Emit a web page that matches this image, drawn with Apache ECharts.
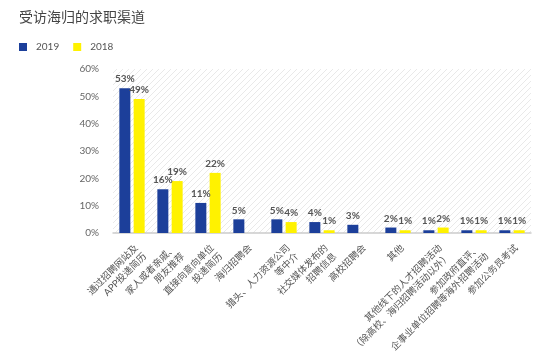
<!DOCTYPE html>
<html><head><meta charset="utf-8">
<script src="https://cdn.jsdelivr.net/npm/echarts@6/dist/echarts.min.js"></script>
<style>html,body{margin:0;padding:0;background:#fff;}#c{width:549px;height:356px;}</style>
</head><body><div id="c"></div>
<script>
const categories = [
  '通过招聘网站及\nAPP投递简历',
  '家人或者亲戚、\n朋友推荐',
  '直接向意向单位\n投递简历',
  '海归招聘会',
  '猎头、人力资源公司\n等中介',
  '社交媒体发布的\n招聘信息',
  '高校招聘会',
  '其他',
  '其他线下的人才招聘活动\n（除高校、海归招聘活动以外）',
  '参加政府直评、\n企事业单位招聘等海外招聘活动',
  '参加公务员考试'
];
const values2019 = [53, 16, 11, 5, 5, 4, 3, 2, 1, 1, 1];
const values2018 = [49, 19, 22, null, 4, 1, null, 1, 2, 1, 1];
const yTicks = [0, 10, 20, 30, 40, 50, 60];

const pc = document.createElement('canvas');
pc.width = 6; pc.height = 6;
const g = pc.getContext('2d');
g.strokeStyle = 'rgba(150,150,150,0.35)';
g.lineWidth = 0.6;
g.beginPath(); g.moveTo(0,6); g.lineTo(6,0); g.stroke();

const font = 'Lato, "Noto Sans CJK SC", sans-serif';
const chart = echarts.init(document.getElementById('c'));
chart.setOption({
  animation: false,
  textStyle: {fontFamily: font},
  title: {text: '受访海归的求职渠道', left: 14, top: 5,
    textStyle: {fontSize: 14, fontWeight: 'normal', color: '#444', fontFamily: font}},
  legend: {left: 14, top: 37, itemWidth: 8, itemHeight: 8, itemGap: 14, icon: 'rect',
    textStyle: {fontSize: 10, color: '#555', padding: [0, 0, 0, 4]}, data: ['2019', '2018']},
  grid: {left: 113, right: 18, top: 69, bottom: 123, show: true, borderWidth: 0,
    backgroundColor: {image: pc, repeat: 'repeat'}},
  xAxis: {type: 'category', data: categories,
    axisLine: {lineStyle: {color: '#ccc', width: 1.5}}, axisTick: {show: false},
    axisLabel: {rotate: 45, interval: 0, fontSize: 9.5, color: '#555', lineHeight: 12, margin: 9,
      verticalAlign: 'top'}},
  yAxis: {type: 'value', min: yTicks[0], max: yTicks[yTicks.length-1], interval: 10,
    axisLine: {show: false}, axisTick: {show: false}, splitLine: {show: false},
    axisLabel: {formatter: '{value}%', fontSize: 10, color: '#666', margin: 14}},
  series: [
    {name: '2019', type: 'bar', data: values2019, barWidth: 11, barGap: '30%',
      itemStyle: {color: '#1C3F9A'},
      label: {show: true, position: 'top', formatter: '{c}%', fontSize: 10, fontWeight: 'bold', color: '#555', distance: 4}},
    {name: '2018', type: 'bar', data: values2018, barWidth: 11,
      itemStyle: {color: '#FFF200'},
      label: {show: true, position: 'top', formatter: '{c}%', fontSize: 10, fontWeight: 'bold', color: '#555', distance: 4}}
  ]
});
</script></body></html>
